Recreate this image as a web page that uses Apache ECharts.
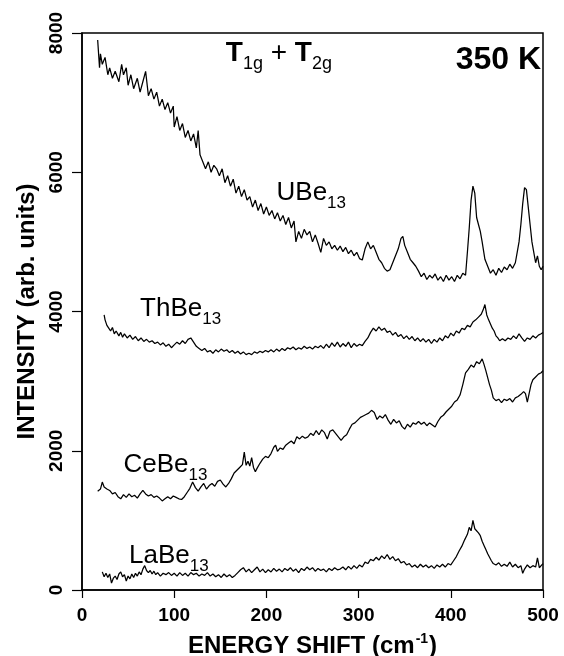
<!DOCTYPE html>
<html><head><meta charset="utf-8">
<script src="https://cdn.jsdelivr.net/npm/echarts@6/dist/echarts.min.js"></script>
<style>html,body{margin:0;padding:0;background:#fff}#c{width:564px;height:656px}</style>
</head><body><div id="c"></div>
<script>
const xTicks = [0, 100, 200, 300, 400, 500];
const yTicks = [0, 2000, 4000, 6000, 8000];
const seriesNames = ['UBe13', 'ThBe13', 'CeBe13', 'LaBe13'];

const UBe13 = [[17,7900],[19,7500],[20,7700],[22,7550],[25,7650],[28,7400],[30,7500],[33,7350],[36,7450],[40,7300],[43,7550],[45,7400],[48,7500],[50,7250],[53,7400],[56,7200],[60,7350],[63,7150],[66,7300],[69,7450],[72,7100],[75,7200],[78,7050],[81,7150],[84,6950],[87,7050],[90,6900],[93,7000],[96,6850],[99,6950],[100,6650],[103,6800],[106,6600],[109,6700],[112,6500],[115,6600],[118,6450],[121,6550],[124,6350],[126,6600],[128,6250],[131,6150],[134,6050],[137,6150],[140,6000],[143,6100],[146,6050],[149,5950],[152,6050],[155,5850],[158,5950],[161,5800],[164,5900],[167,5700],[170,5800],[173,5650],[176,5750],[179,5600],[182,5650],[185,5500],[188,5600],[191,5450],[194,5550],[197,5400],[200,5500],[203,5380],[206,5450],[209,5330],[212,5420],[215,5300],[218,5380],[221,5250],[224,5350],[227,5200],[230,5300],[232,5000],[235,5150],[238,5050],[241,5180],[244,5100],[247,5150],[250,5000],[253,5100],[256,4980],[259,4850],[262,5050],[265,4950],[268,5000],[271,4900],[274,4950],[277,4880],[280,4940],[283,4860],[286,4920],[289,4830],[292,4880],[295,4800],[298,4850],[301,4760],[304,4740],[307,4900],[310,5000],[313,4900],[316,4950],[319,4850],[322,4750],[325,4700],[328,4620],[331,4580],[334,4600],[337,4700],[340,4800],[343,4900],[346,5050],[348,5080],[350,4950],[353,4850],[356,4750],[359,4700],[362,4650],[365,4580],[368,4500],[371,4550],[374,4460],[377,4520],[380,4480],[383,4540],[386,4450],[389,4500],[392,4430],[395,4520],[398,4450],[401,4500],[404,4430],[407,4520],[410,4470],[413,4550],[416,4520],[418,4850],[420,5200],[422,5600],[424,5800],[426,5700],[428,5350],[430,5250],[432,5150],[434,5000],[437,4750],[440,4650],[443,4550],[446,4600],[449,4520],[452,4620],[455,4560],[458,4640],[461,4600],[464,4680],[467,4620],[470,4700],[472,4850],[474,5000],[476,5250],[478,5550],[480,5780],[482,5750],[484,5500],[486,5250],[488,5000],[490,4850],[492,4700],[494,4800],[496,4650],[498,4600],[500,4650]];

const ThBe13 = [[24,3950],[25,3880],[27,3800],[29,3760],[31,3720],[33,3770],[35,3680],[37,3720],[40,3650],[42,3700],[44,3630],[46,3680],[49,3620],[52,3660],[55,3600],[58,3640],[61,3580],[64,3620],[67,3570],[70,3600],[73,3560],[76,3580],[79,3540],[82,3560],[85,3520],[88,3550],[91,3500],[94,3530],[97,3480],[100,3520],[103,3560],[106,3530],[109,3580],[112,3540],[115,3600],[118,3620],[121,3560],[124,3500],[127,3470],[130,3440],[133,3470],[136,3420],[139,3440],[142,3400],[145,3450],[148,3420],[151,3460],[154,3430],[157,3450],[160,3410],[163,3440],[166,3400],[169,3430],[172,3390],[175,3420],[178,3380],[181,3400],[184,3380],[187,3420],[190,3400],[193,3430],[196,3410],[199,3440],[202,3420],[205,3450],[208,3420],[211,3460],[214,3430],[217,3470],[220,3440],[223,3480],[226,3460],[229,3490],[232,3450],[235,3480],[238,3460],[241,3500],[244,3470],[247,3490],[250,3460],[253,3500],[256,3480],[259,3510],[262,3470],[265,3530],[268,3480],[271,3550],[274,3500],[277,3560],[280,3490],[283,3540],[286,3500],[289,3560],[292,3480],[295,3540],[298,3500],[301,3530],[304,3510],[307,3570],[310,3620],[313,3700],[316,3760],[319,3720],[322,3780],[325,3730],[328,3760],[331,3700],[334,3720],[337,3660],[340,3700],[343,3640],[346,3670],[349,3610],[352,3650],[355,3600],[358,3640],[361,3580],[364,3620],[367,3570],[370,3610],[373,3560],[376,3600],[379,3540],[382,3600],[385,3560],[388,3620],[391,3580],[394,3650],[397,3620],[400,3690],[403,3650],[406,3720],[409,3690],[412,3760],[415,3740],[418,3800],[421,3780],[424,3850],[427,3880],[430,3920],[433,3960],[435,4020],[437,4100],[439,3950],[441,3880],[443,3820],[445,3760],[447,3720],[449,3650],[451,3620],[453,3580],[456,3610],[459,3580],[462,3620],[465,3600],[468,3650],[471,3610],[474,3680],[477,3620],[480,3570],[483,3620],[486,3600],[489,3650],[492,3620],[495,3660],[498,3680],[500,3700]];

const CeBe13 = [[17,1420],[20,1450],[22,1550],[24,1480],[27,1450],[30,1430],[33,1380],[36,1400],[39,1340],[42,1310],[45,1370],[48,1330],[51,1380],[54,1340],[57,1360],[60,1320],[63,1380],[66,1430],[69,1380],[72,1350],[75,1370],[78,1330],[81,1350],[84,1320],[87,1280],[90,1310],[93,1340],[96,1310],[99,1350],[102,1330],[105,1310],[108,1300],[111,1340],[114,1400],[117,1460],[120,1550],[123,1470],[126,1420],[129,1480],[132,1530],[135,1450],[138,1500],[141,1530],[144,1490],[147,1560],[150,1580],[153,1520],[156,1480],[159,1530],[162,1600],[165,1680],[168,1720],[171,1760],[174,1800],[176,1980],[178,1790],[180,1850],[182,1780],[184,1900],[186,1760],[188,1700],[190,1750],[193,1820],[196,1880],[199,1920],[202,1900],[205,1960],[208,2050],[210,2080],[212,1990],[215,2040],[218,2020],[221,2080],[224,2110],[227,2140],[230,2100],[233,2200],[236,2170],[239,2210],[242,2180],[245,2200],[248,2250],[251,2220],[254,2290],[257,2230],[260,2300],[263,2260],[266,2170],[269,2280],[272,2300],[275,2250],[278,2200],[281,2150],[284,2200],[287,2230],[290,2310],[293,2380],[296,2400],[299,2440],[302,2480],[305,2500],[308,2520],[311,2540],[314,2580],[317,2550],[320,2450],[323,2500],[326,2470],[329,2520],[332,2440],[335,2380],[338,2450],[341,2400],[344,2430],[347,2350],[350,2310],[353,2380],[356,2340],[359,2400],[362,2380],[365,2420],[368,2380],[371,2410],[374,2360],[377,2400],[380,2370],[383,2340],[386,2420],[389,2480],[392,2510],[395,2560],[398,2600],[401,2640],[404,2700],[407,2730],[410,2800],[413,2950],[416,3120],[419,3170],[422,3230],[425,3200],[428,3280],[431,3250],[434,3320],[436,3240],[438,3150],[440,3050],[442,2950],[444,2870],[446,2760],[449,2720],[452,2740],[455,2690],[458,2740],[461,2720],[464,2750],[467,2700],[470,2760],[473,2780],[476,2810],[479,2850],[481,2820],[483,2700],[485,2680],[487,2950],[489,3020],[492,3060],[495,3100],[498,3120],[500,3150]];

const LaBe13 = [[22,260],[24,190],[26,240],[28,180],[30,230],[32,100],[34,170],[36,200],[38,150],[40,230],[42,260],[44,190],[46,220],[48,130],[50,200],[52,160],[54,230],[56,180],[58,240],[60,200],[62,260],[64,220],[66,300],[68,350],[70,280],[72,250],[74,280],[76,230],[78,270],[80,220],[82,250],[85,200],[88,240],[91,220],[94,250],[97,210],[100,240],[103,200],[106,250],[109,210],[112,240],[115,200],[118,250],[121,220],[124,240],[127,200],[130,230],[133,210],[136,250],[139,200],[142,230],[145,190],[148,220],[151,180],[154,230],[157,190],[160,220],[163,180],[166,210],[169,250],[172,290],[175,320],[178,260],[181,300],[184,250],[187,290],[190,330],[193,260],[196,300],[199,250],[202,290],[205,260],[208,310],[211,270],[214,300],[217,260],[220,310],[223,280],[226,320],[229,270],[232,300],[235,250],[238,310],[241,280],[244,330],[247,290],[250,320],[253,270],[256,310],[259,280],[262,300],[265,260],[268,310],[271,280],[274,320],[277,290],[280,300],[283,330],[286,290],[289,340],[292,300],[295,350],[298,310],[301,360],[304,330],[307,400],[310,380],[313,440],[316,420],[319,470],[322,430],[325,490],[328,450],[331,510],[334,440],[337,480],[340,420],[343,450],[346,390],[349,410],[352,360],[355,380],[358,330],[361,360],[364,320],[367,370],[370,330],[373,360],[376,320],[379,350],[382,310],[385,360],[388,330],[391,370],[394,330],[397,380],[400,360],[403,420],[406,480],[409,560],[412,630],[415,720],[418,800],[420,900],[422,850],[424,1000],[426,880],[428,900],[430,820],[432,780],[434,700],[436,640],[438,580],[440,520],[442,470],[444,420],[446,380],[449,360],[452,390],[455,340],[458,370],[461,340],[464,400],[467,330],[470,370],[473,320],[476,350],[478,240],[480,300],[483,360],[486,320],[489,350],[492,330],[494,460],[496,320],[498,350],[500,380]];

const FONT = 'Liberation Sans, Arial, Helvetica, sans-serif';
const chart = echarts.init(document.getElementById('c'), null, {renderer: 'canvas'});
const allData = [UBe13, ThBe13, CeBe13, LaBe13];

chart.setOption({
  animation: false,
  backgroundColor: '#fff',
  grid: {left: 82, right: 21, top: 33, bottom: 66, containLabel: false, outerBoundsMode: 'none',
    show: true, borderColor: '#000', borderWidth: 1.5, backgroundColor: 'transparent'},
  xAxis: {
    type: 'value', min: xTicks[0], max: xTicks[xTicks.length - 1], interval: 100,
    axisLine: {show: true, lineStyle: {color: '#000', width: 1.5}},
    axisTick: {show: true, inside: false, length: 8, lineStyle: {color: '#000', width: 1.2}},
    splitLine: {show: false},
    axisLabel: {color: '#000', fontFamily: FONT, fontWeight: 'bold', fontSize: 19, margin: 16, formatter: v => String(v)},
    name: '{a|ENERGY SHIFT (cm}{s|-1}{a|)}',
    nameLocation: 'middle', nameGap: 42,
    nameTextStyle: {
      rich: {
        a: {fontFamily: FONT, fontWeight: 'bold', fontSize: 24, color: '#000', verticalAlign: 'bottom'},
        s: {fontFamily: FONT, fontWeight: 'bold', fontSize: 14, color: '#000', verticalAlign: 'bottom', padding: [0, 1, 12, 1]}
      }
    }
  },
  yAxis: {
    type: 'value', min: yTicks[0], max: yTicks[yTicks.length - 1], interval: 2000,
    axisLine: {show: true, lineStyle: {color: '#000', width: 1.5}},
    axisTick: {show: true, inside: false, length: 10, lineStyle: {color: '#000', width: 1.2}},
    splitLine: {show: false},
    axisLabel: {color: '#000', fontFamily: FONT, fontWeight: 'bold', fontSize: 19, rotate: 90, margin: 16, formatter: v => String(v)},
    name: 'INTENSITY (arb. units)',
    nameLocation: 'middle', nameGap: 42, nameRotate: 90,
    nameTextStyle: {fontFamily: FONT, fontWeight: 'bold', fontSize: 24, color: '#000'}
  },
  series: allData.map((d, i) => ({
    name: seriesNames[i], type: 'line', data: d, showSymbol: false, symbol: 'none',
    lineStyle: {color: '#000', width: 1.25}, silent: true
  }))
});

function px(pt) { return chart.convertToPixel({gridIndex: 0}, pt); }
const mainRich = {
  m: {fontFamily: FONT, fontSize: 26, fill: '#000', verticalAlign: 'bottom', padding: [0, 0, 6, 0]},
  s: {fontFamily: FONT, fontSize: 17, fill: '#000', verticalAlign: 'bottom'}
};
function label(text, sub, pt) {
  const p = px(pt);
  return {type: 'text', x: p[0], y: p[1], style: {text: '{m|' + text + '}{s|' + sub + '}', rich: mainRich, verticalAlign: 'bottom', align: 'left'}};
}
const g = [
  label('UBe', '13', [211, 5430]),
  label('ThBe', '13', [63, 3760]),
  label('CeBe', '13', [45, 1530]),
  label('LaBe', '13', [51, 220])
];
const tp = px([156, 7420]);
g.push({type: 'text', x: tp[0], y: tp[1], style: {
  text: '{T|T}{s|1g}{p| + }{T|T}{s|2g}', verticalAlign: 'bottom', align: 'left',
  rich: {
    T: {fontFamily: FONT, fontWeight: 'bold', fontSize: 28, fill: '#000', verticalAlign: 'bottom', padding: [0, 0, 6, 0]},
    s: {fontFamily: FONT, fontSize: 18, fill: '#000', verticalAlign: 'bottom'},
    p: {fontFamily: FONT, fontSize: 28, fill: '#000', fontWeight: 'normal', verticalAlign: 'bottom', padding: [0, 0, 6, 0]}
  }}});
const kp = px([498, 7380]);
g.push({type: 'text', x: kp[0], y: kp[1], style: {text: '350 K', fontFamily: FONT, fontWeight: 'bold', fontSize: 32, fill: '#000', align: 'right', verticalAlign: 'bottom'}});
chart.setOption({graphic: g});
</script></body></html>
